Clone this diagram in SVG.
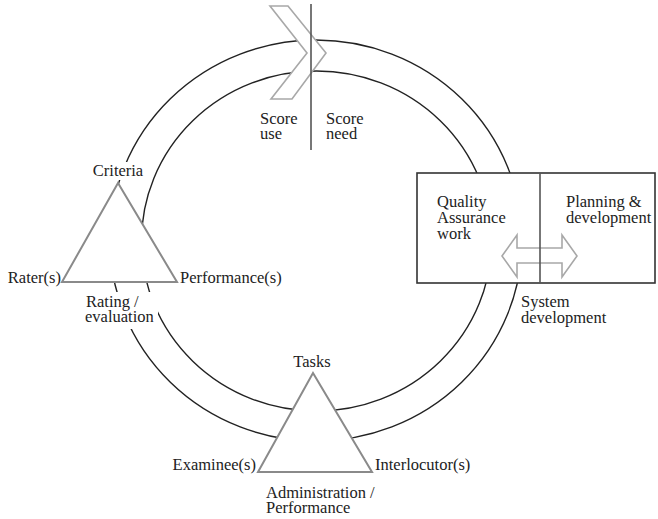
<svg xmlns="http://www.w3.org/2000/svg" width="658" height="519" viewBox="0 0 658 519">
<style>
text{font-family:"Liberation Serif","Times New Roman",serif;font-size:16.5px;fill:#222}
.ring{fill:none;stroke:#222;stroke-width:1.4}
.tri{fill:#fff;stroke:#8a8a8a;stroke-width:2}
.box{fill:#fff;stroke:#333;stroke-width:1.6}
.div{stroke:#555;stroke-width:1.6}
.light{fill:#fff;stroke:#a8a8a8;stroke-width:1.6}
.mask{fill:#fff}
</style>
<rect width="658" height="519" fill="#fff"/>
<g id="connectors">
<ellipse class="ring" cx="316" cy="240.5" rx="206" ry="200.5"/>
<ellipse class="ring" cx="316.5" cy="241" rx="175" ry="170"/>
</g>
<g id="qa-box">
<rect class="box" x="417" y="173" width="238" height="110"/>
<polygon class="light" points="502,256 517,235 517,248 562,248 562,235 577,256 562,277 562,263 517,263 517,277"/>
<line class="div" x1="540" y1="173" x2="540" y2="283"/>
<text x="437" y="207">Quality<tspan x="437" dy="16">Assurance</tspan><tspan x="437" dy="16">work</tspan></text>
<text x="566" y="207">Planning &amp;<tspan x="566" dy="16">development</tspan></text>
</g>
<g id="system-development">
<text x="521" y="307">System<tspan x="521" dy="16">development</tspan></text>
</g>
<g id="score">
<polygon class="light" points="270,6 288,6 326,53 292,99 271,99 307,53"/>
<line class="div" x1="311" y1="4" x2="311" y2="150"/>
<text x="260" y="124">Score<tspan x="260" dy="15">use</tspan></text>
<text x="326" y="124">Score<tspan x="326" dy="15">need</tspan></text>
</g>
<g id="rating">
<polygon class="tri" points="118,183 62,282 177,282"/>
<rect class="mask" x="90" y="162" width="57" height="18"/>
<rect class="mask" x="83" y="292" width="75" height="37"/>
<text x="118" y="176" text-anchor="middle">Criteria</text>
<text x="61" y="283" text-anchor="end">Rater(s)</text>
<text x="180" y="283">Performance(s)</text>
<text x="86" y="307">Rating /<tspan x="85" dy="15">evaluation</tspan></text>
</g>
<g id="administration">
<polygon class="tri" points="313,373 258,472 372,472"/>
<text x="312" y="367" text-anchor="middle">Tasks</text>
<text x="256" y="470" text-anchor="end">Examinee(s)</text>
<text x="375" y="470">Interlocutor(s)</text>
<text x="266" y="498">Administration /<tspan x="266" dy="15">Performance</tspan></text>
</g>
</svg>
